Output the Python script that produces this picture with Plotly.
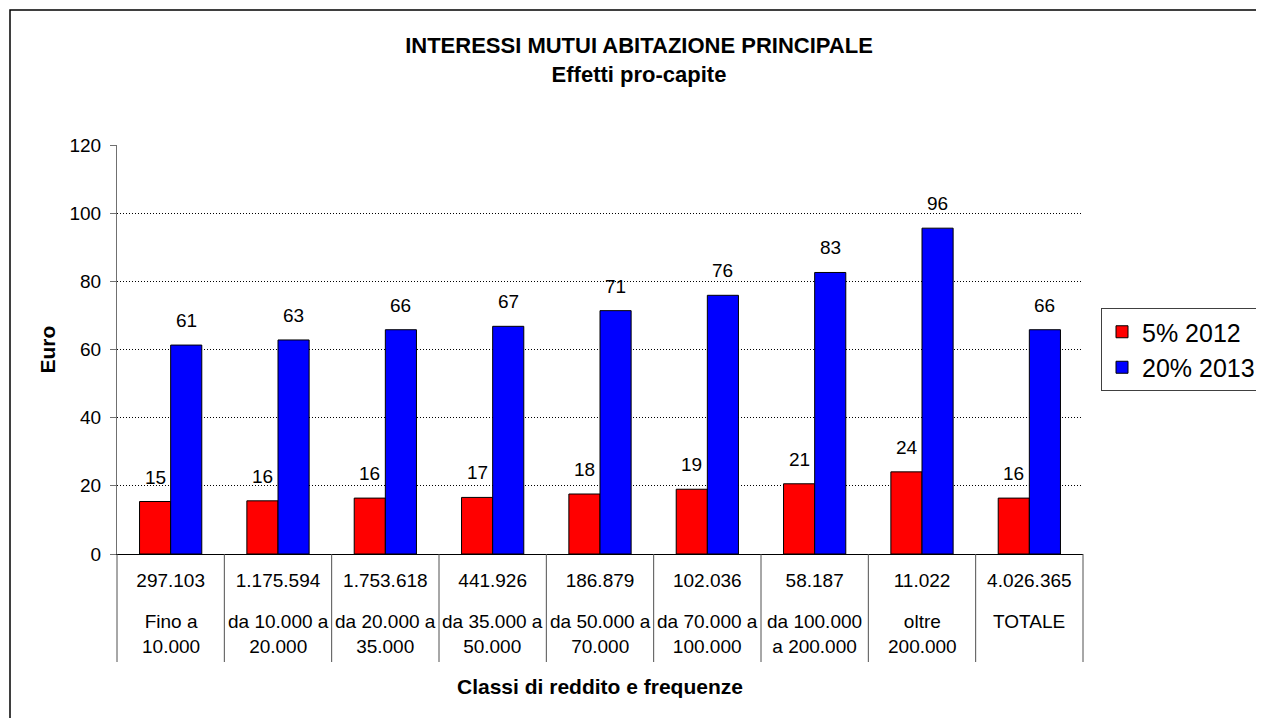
import plotly.graph_objects as go

# Dati: classi di reddito, frequenze e effetti pro-capite (euro)
frequenze = ["297.103", "1.175.594", "1.753.618", "441.926", "186.879",
             "102.036", "58.187", "11.022", "4.026.365"]
classi = ["Fino a<br>10.000", "da 10.000 a<br>20.000", "da 20.000 a<br>35.000",
          "da 35.000 a<br>50.000", "da 50.000 a<br>70.000", "da 70.000 a<br>100.000",
          "da 100.000<br>a 200.000", "oltre<br>200.000", "TOTALE"]
valori_2012 = [15.4, 15.6, 16.4, 16.6, 17.6, 19.0, 20.6, 24.1, 16.4]
valori_2013 = [61.3, 62.8, 65.8, 66.8, 71.4, 75.9, 82.6, 95.6, 65.8]
y_ticks = [0, 20, 40, 60, 80, 100, 120]

FONT = "Arial, Liberation Sans, sans-serif"
# the page body adds 8px around the figure
W, H = 1256, 710
ML, MR, MT, MB = 109, 181, 137, 164
plot_w = W - ML - MR
plot_h = H - MT - MB

fig = go.Figure()

fig.add_trace(go.Bar(
    x=frequenze, y=valori_2012, name="5% 2012",
    marker=dict(color="#FF0000", line=dict(color="black", width=1)),
))
fig.add_trace(go.Bar(
    x=frequenze, y=valori_2013, name="20% 2013",
    marker=dict(color="#0000FF", line=dict(color="black", width=1)),
))

annotations = []
# etichette dei valori sopra le barre
for i, (v1, v2) in enumerate(zip(valori_2012, valori_2013)):
    for v, dx in ((v1, -15.5), (v2, 15.5)):
        annotations.append(dict(
            x=i, y=v, xref="x", yref="y", text=f"{v:.0f}", showarrow=False,
            xshift=dx, yshift=12, yanchor="bottom",
            font=dict(family=FONT, size=19, color="black"),
        ))
# seconda riga di etichette dell'asse x (classi di reddito)
for i, c in enumerate(classi):
    annotations.append(dict(
        x=i, y=0, xref="x", yref="paper", text=c, showarrow=False,
        yanchor="top", yshift=-55,
        font=dict(family=FONT, size=19, color="black"),
    ))
# titoli degli assi
annotations.append(dict(
    x=0.5, y=0, xref="paper", yref="paper", yanchor="top", yshift=-119,
    text="<b>Classi di reddito e frequenze</b>", showarrow=False,
    font=dict(family=FONT, size=21, color="black"),
))
annotations.append(dict(
    x=0, y=0.5, xref="paper", yref="paper", xanchor="center", xshift=-70,
    text="<b>Euro</b>", textangle=-90, showarrow=False,
    font=dict(family=FONT, size=21, color="black"),
))

shapes = []
# separatori verticali tra le categorie sotto l'asse
n = len(frequenze)
for i in range(n + 1):
    shapes.append(dict(
        type="line", xref="paper", yref="paper",
        x0=i / n, x1=i / n, y0=0, y1=-108 / plot_h,
        line=dict(color="#505050", width=1),
    ))
# cornice del grafico
shapes.append(dict(
    type="rect", xref="paper", yref="paper",
    x0=(2 - ML) / plot_w, x1=(W + 20 - ML) / plot_w,
    y0=-(MB + 20) / plot_h, y1=(H - MB - 2) / plot_h,
    line=dict(color="black", width=1.5), fillcolor="rgba(0,0,0,0)",
))

fig.update_layout(
    width=W, height=H,
    margin=dict(l=ML, r=MR, t=MT, b=MB, autoexpand=False),
    paper_bgcolor="white", plot_bgcolor="white",
    font=dict(family=FONT, size=19, color="black"),
    title=dict(
        text="<b>INTERESSI MUTUI ABITAZIONE PRINCIPALE<br>Effetti pro-capite</b>",
        x=631 / W, xanchor="center", y=1 - 45 / H, yanchor="top", yref="container",
        font=dict(family=FONT, size=22, color="black"),
    ),
    barmode="group", bargap=0.42, bargroupgap=0,
    xaxis=dict(
        type="category", range=[-0.5, n - 0.5],
        showline=True, linecolor="black", linewidth=1,
        ticks="", showgrid=False, ticklabelstandoff=9,
        tickfont=dict(family=FONT, size=19, color="black"),
    ),
    yaxis=dict(
        range=[0, 120], tickvals=y_ticks,
        showline=True, linecolor="#707070", linewidth=1,
        ticks="outside", ticklen=6, tickcolor="#707070", ticklabelstandoff=5,
        showgrid=True, gridcolor="black", gridwidth=1, griddash="1px,2px",
        zeroline=False,
        tickfont=dict(family=FONT, size=19, color="black"),
    ),
    legend=dict(
        xref="container", yref="container", x=1093 / W, y=1 - 300 / H,
        xanchor="left", yanchor="top",
        bordercolor="#404040", borderwidth=1, bgcolor="white",
        font=dict(family=FONT, size=25, color="black"),
        itemwidth=30, tracegroupgap=0,
    ),
    showlegend=True,
    annotations=annotations,
    shapes=shapes,
)

fig.write_html("out.html")
